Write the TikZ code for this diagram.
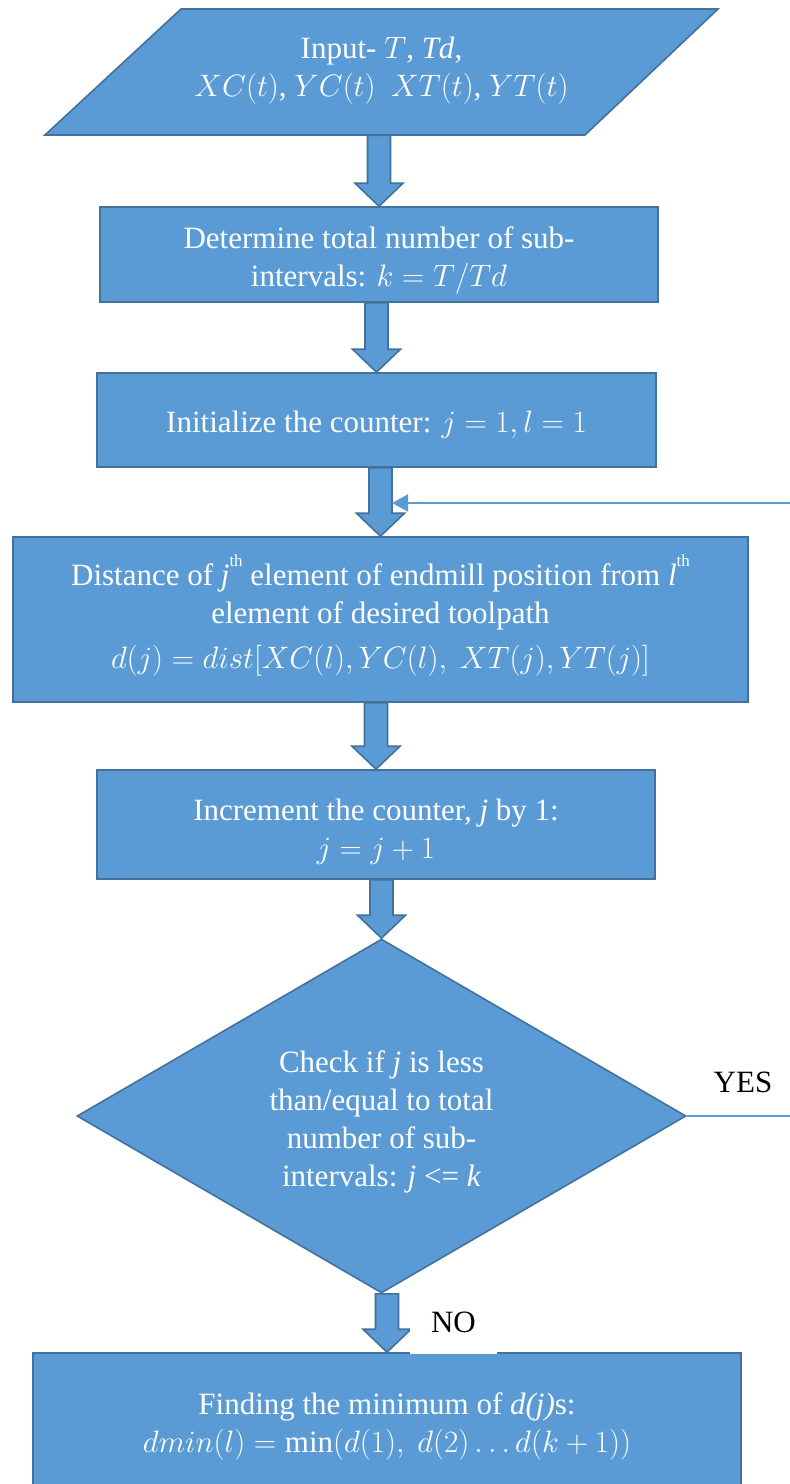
\RequirePackage{fix-cm}
\documentclass[tikz,border=0pt]{standalone}
\usepackage{fontspec}
\setmainfont{Liberation Serif}
\usetikzlibrary{shapes.geometric,arrows.meta,calc}
\definecolor{boxfill}{HTML}{5B9BD5}
\definecolor{boxline}{HTML}{41719C}

\tikzset{
  flowbox/.style={draw=boxline, fill=boxfill, line width=1.6pt, inner sep=0pt},
  decisionbox/.style={flowbox, shape=diamond, aspect=1.72},
  boxtext/.style={text=white, align=center, inner sep=0pt,
    font=\fontsize{31}{38}\selectfont},
  blockarrow/.style={draw=boxline, fill=boxfill, line width=1.6pt, line join=miter},
  loopline/.style={draw=boxfill, line width=2pt},
  tag/.style={text=black, inner sep=0pt, font=\fontsize{31}{38}\selectfont},
}

% hollow block arrow pointing down from one node to the next
\newcommand{\flowarrow}[2]{%
  \draw[blockarrow] let \p1=(#1.south), \p2=(#2.north) in
    (\x2-11.5pt,\y1) -- (\x2+11.5pt,\y1) -- (\x2+11.5pt,\y2+23pt)
    -- (\x2+24pt,\y2+23pt) -- (\x2,\y2) -- (\x2-24pt,\y2+23pt)
    -- (\x2-11.5pt,\y2+23pt) -- cycle;}

\newcommand{\thmark}{\raisebox{0.62em}{\fontsize{17}{17}\selectfont th}}

\begin{document}
\begin{tikzpicture}[x=1pt,y=-1pt]
\useasboundingbox (0,0) rectangle (790,1484);
\clip (0,0) rectangle (790,1484);

% input parallelogram
\draw[blockarrow] (45,135) -- (181,9) -- (718,9) -- (585,135) -- cycle;
\node[minimum width=540, minimum height=126, inner sep=0pt] (input) at (381.5,72) {};
\node[boxtext] (input-t) at ([yshift=1pt]input.center)
  {Input- $T$, \textit{Td},\\ $XC(t)$, $YC(t)$\enspace$XT(t)$, $YT(t)$};

% process steps
\node[flowbox, minimum width=558, minimum height=95] (count) at (379,254.5) {};
\node[boxtext] (count-t) at ([yshift=-6pt]count.center)
  {Determine total number of sub-\\ intervals: $k = T/Td$};

\node[flowbox, minimum width=559, minimum height=94] (init) at (376.5,420) {};
\node[boxtext] (init-t) at ([yshift=-5pt]init.center)
  {Initialize the counter: $j = 1, l = 1$};

\node[flowbox, minimum width=735, minimum height=165] (dist) at (380.5,619.5) {};
\node[boxtext] (dist-t) at ([yshift=4pt]dist.center)
  {Distance of \textit{j}\thmark{} element of endmill position from \textit{l}\thmark\\
   element of desired toolpath\\[7pt]
   $d(j) = dist[XC(l),YC(l),\ XT(j),YT(j)]$};

\node[flowbox, minimum width=558, minimum height=109] (incr) at (376,824.5) {};
\node[boxtext] (incr-t) at ([yshift=-7pt]incr.center)
  {Increment the counter, \textit{j} by 1:\\ $j = j + 1$};

% decision
\node[decisionbox, minimum width=609, minimum height=354] (check) at (381.5,1116) {};
\node[boxtext] (check-t) at ([yshift=-6pt]check.center)
  {Check if \textit{j} is less\\ than/equal to total\\ number of sub-\\
   intervals: \textit{j} <= \textit{k}};

% result
\node[flowbox, minimum width=708, minimum height=147] (findmin) at (387,1426.5) {};
\node[boxtext] (findmin-t) at ([yshift=0pt]findmin.center)
  {Finding the minimum of \textit{d(j)}s:\\
   $dmin(l) = \mathrm{min}(d(1),\ d(2) \ldots d(k+1))$};

% block arrows between steps
\flowarrow{input}{count}
\flowarrow{count}{init}
\flowarrow{init}{dist}
\flowarrow{dist}{incr}
\flowarrow{incr}{check}
\flowarrow{check}{findmin}

% loop back (YES branch) and its return into the chain
\coordinate (loopstart) at (790,503);
\coordinate (loopend) at ($(dist.north |- loopstart)+(11.5pt,0)$);
\draw[loopline, -{Triangle[length=16pt,width=17pt]}] (loopstart) -- (loopend);

\coordinate (yesend) at (check.east -| loopstart);
\draw[loopline] (check.east) -- (yesend);
\node[tag] (yes) at (743,1082) {YES};

% NO label on its white patch
\node[tag, fill=white, minimum width=87, minimum height=64] (no) at (453.5,1322) {NO};
\end{tikzpicture}
\end{document}
